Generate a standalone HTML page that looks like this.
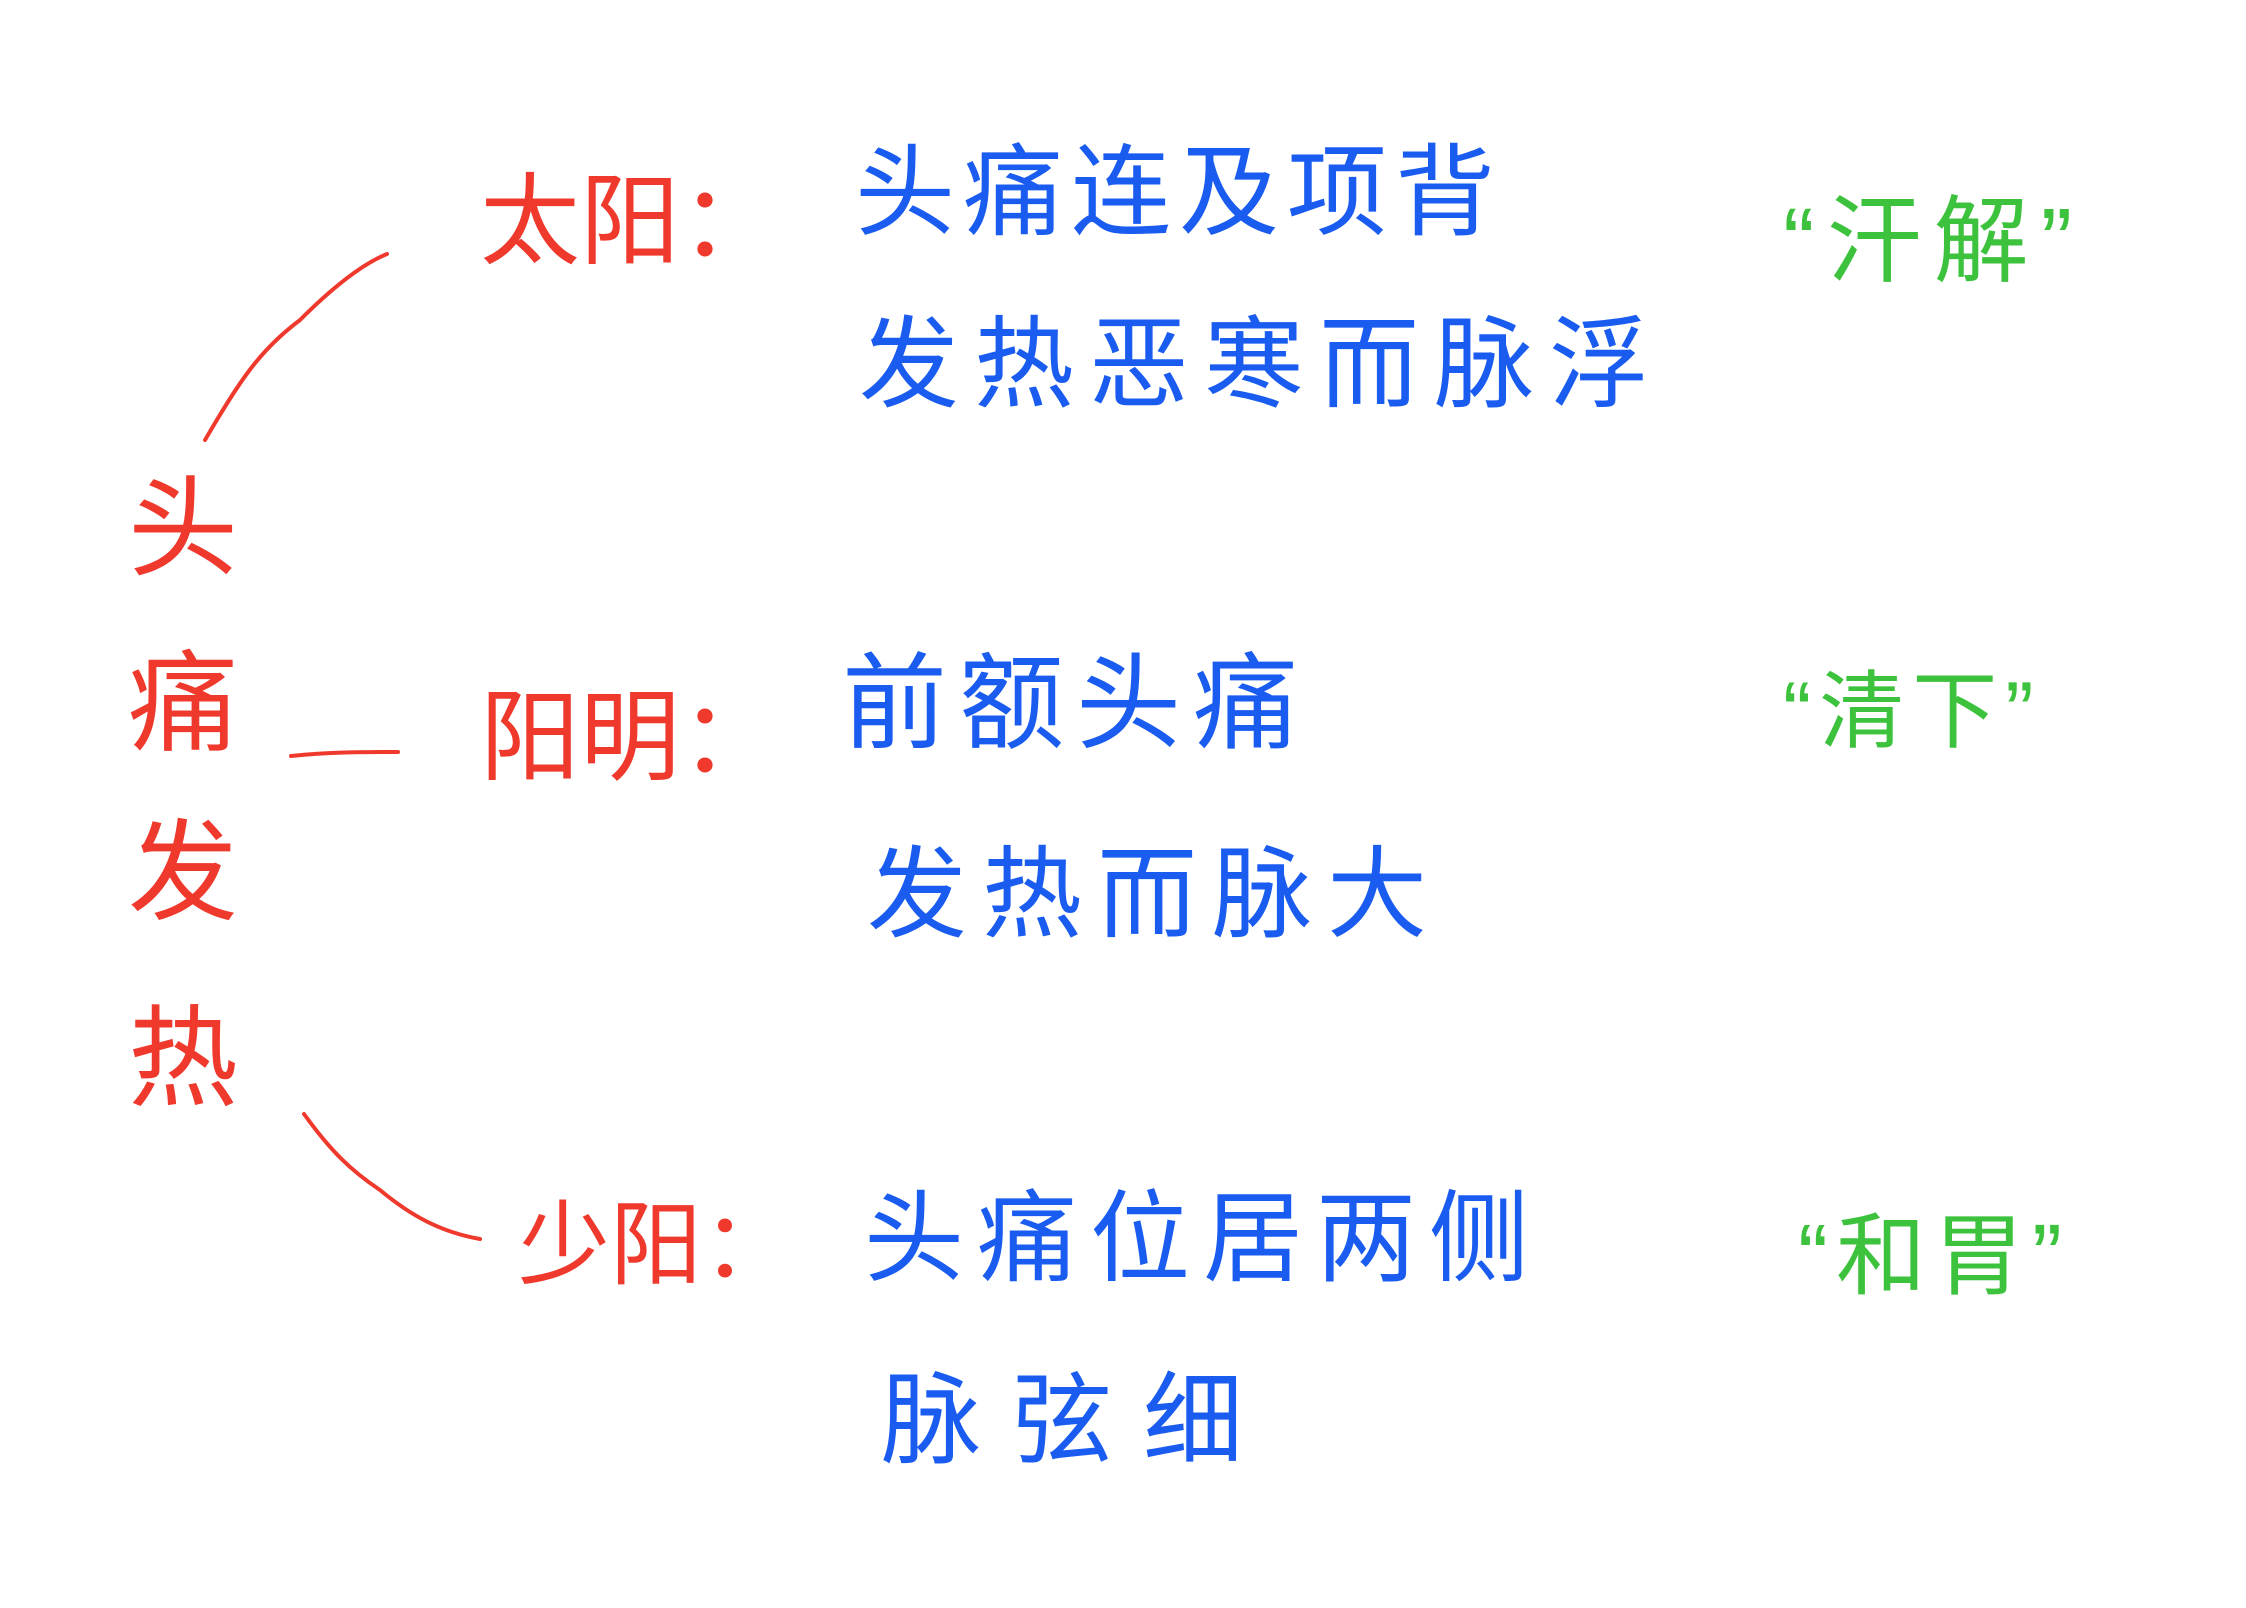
<!DOCTYPE html>
<html><head><meta charset="utf-8"><style>
html,body{margin:0;padding:0;background:#fff;}
body{width:2246px;height:1608px;position:relative;overflow:hidden;font-family:"Liberation Sans","Noto Sans CJK SC",sans-serif;}
.t{position:absolute;line-height:1;white-space:nowrap;font-weight:400;}
.r{color:#f0392d;}
.b{color:#1a5cf0;}
.g{color:#3cc23c;}
</style></head><body>
<svg width="2246" height="1608" style="position:absolute;left:0;top:0">
<g fill="none" stroke="#f0392d" stroke-width="4" stroke-linecap="round">
<path d="M205 440 C240 380 260 350 300 320 C330 290 360 265 387 254"/>
<path d="M291 756 C330 752 360 752 398 752"/>
<path d="M304 1114 C330 1150 350 1170 380 1190 C410 1215 440 1232 480 1239"/>
</g>
</svg>
<div class="t r" style="left:128px;top:475px;font-size:110px">头</div>
<div class="t r" style="left:128px;top:650px;font-size:110px">痛</div>
<div class="t r" style="left:128px;top:819px;font-size:110px">发</div>
<div class="t r" style="left:128px;top:1005px;font-size:110px">热</div>

<div class="t r" style="left:480px;top:172px;font-size:100px">太阳：</div>
<div class="t r" style="left:480px;top:688px;font-size:100px">阳明：</div>
<div class="t r" style="left:518px;top:1200px;font-size:92px">少阳：</div>

<div class="t b" style="left:855px;top:143px;font-size:100px;letter-spacing:8px">头痛连及项背</div>
<div class="t b" style="left:859px;top:315px;font-size:100px;letter-spacing:15px">发热恶寒而脉浮</div>
<div class="t b" style="left:842px;top:652px;font-size:105px;letter-spacing:12px">前额头痛</div>
<div class="t b" style="left:867px;top:845px;font-size:100px;letter-spacing:15px">发热而脉大</div>
<div class="t b" style="left:864px;top:1189px;font-size:100px;letter-spacing:13px">头痛位居两侧</div>
<div class="t b" style="left:881px;top:1371px;font-size:100px;letter-spacing:31px">脉弦细</div>

<div class="t g" style="left:1783px;top:195px;font-size:95px;letter-spacing:12px">“汗解”</div>
<div class="t g" style="left:1783px;top:670px;font-size:85px;letter-spacing:8px">“清下”</div>
<div class="t g" style="left:1798px;top:1212px;font-size:90px;letter-spacing:8px">“和胃”</div>
</body></html>
